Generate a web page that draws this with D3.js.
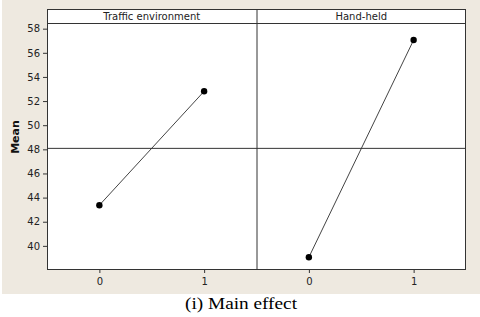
<!DOCTYPE html>
<html>
<head>
<meta charset="utf-8">
<script src="https://cdn.jsdelivr.net/npm/d3@7"></script>
<style>
  body { margin: 0; background: #fff; }
  svg text { font-family: Tahoma, "DejaVu Sans", sans-serif; }
</style>
</head>
<body>
<div id="chart"></div>
<script>
// main effects data
var panels = ["Traffic environment", "Hand-held"];
var levels = [0, 1];
var trafficMeans = [43.37, 52.81];
var handheldMeans = [39.06, 57.06];
var yTicks = [40, 42, 44, 46, 48, 50, 52, 54, 56, 58];
var grandMean = 48.08;

var width = 480, height = 317;
var frame = { left: 47, right: 466, top: 9, strip: 23, bottom: 270 };
var panelW = (frame.right - frame.left) / panels.length;

var svg = d3.select('#chart').append('svg')
    .attr('width', width)
    .attr('height', height);

// beige background
svg.append('rect')
    .attr('x', 2).attr('y', 0)
    .attr('width', 478).attr('height', 294)
    .attr('fill', '#eee9e0');

svg.append('rect')
    .attr('x', frame.left).attr('y', frame.top)
    .attr('width', frame.right - frame.left)
    .attr('height', frame.bottom - frame.top)
    .attr('fill', '#fff');

var y = d3.scaleLinear()
    .domain([38.0, 58.47])
    .range([frame.bottom, frame.strip]);

var yAxis = svg.append('g')
    .attr('transform', 'translate(' + frame.left + ',0)')
    .call(d3.axisLeft(y).tickValues(yTicks).tickSize(4).tickPadding(3));
yAxis.select('.domain').remove();
yAxis.selectAll('line').attr('stroke', '#333');
yAxis.selectAll('text')
    .attr('font-size', 10)
    .attr('fill', '#222')
    .style('font-family', 'Tahoma, "DejaVu Sans", sans-serif');

// y label
svg.append('text')
    .attr('transform', 'translate(19,' + 137 + ') rotate(-90)')
    .attr('text-anchor', 'middle')
    .attr('font-size', 11)
    .attr('font-weight', 'bold')
    .attr('fill', '#111')
    .text('Mean');

var series = [trafficMeans, handheldMeans];

panels.forEach(function (name, p) {
    var x0 = frame.left + p * panelW;
    var x = d3.scaleLinear()
        .domain([-0.5, 1.5])
        .range([x0, x0 + panelW]);

    var xAxis = svg.append('g')
        .attr('transform', 'translate(0,' + frame.bottom + ')')
        .call(d3.axisBottom(x).tickValues(levels).tickSize(3).tickPadding(5).tickFormat(d3.format('d')));
    xAxis.select('.domain').remove();
    xAxis.selectAll('line').attr('stroke', '#333');
    xAxis.selectAll('text')
        .attr('font-size', 10)
        .attr('fill', '#222')
        .style('font-family', 'Tahoma, "DejaVu Sans", sans-serif');

    var pts = levels.map(function (l, i) { return [l, series[p][i]]; });

    svg.append('path')
        .datum(pts)
        .attr('fill', 'none')
        .attr('stroke', '#444')
        .attr('stroke-width', 1)
        .attr('d', d3.line()
            .x(function (d) { return x(d[0]); })
            .y(function (d) { return y(d[1]); }));

    svg.selectAll('.pt' + p)
        .data(pts)
        .enter().append('circle')
        .attr('cx', function (d) { return x(d[0]); })
        .attr('cy', function (d) { return y(d[1]); })
        .attr('r', 3.2)
        .attr('fill', '#000');

    // strip label
    svg.append('text')
        .attr('x', x0 + panelW / 2)
        .attr('y', frame.top + 10.5)
        .attr('text-anchor', 'middle')
        .attr('font-size', 10)
        .attr('fill', '#222')
        .text(name);
});

// reference line at grand mean
svg.append('line')
    .attr('x1', frame.left).attr('x2', frame.right)
    .attr('y1', y(grandMean)).attr('y2', y(grandMean))
    .attr('stroke', '#333').attr('stroke-width', 1);

// frame, strip line, panel divider
svg.append('rect')
    .attr('x', frame.left + 0.5).attr('y', frame.top + 0.5)
    .attr('width', frame.right - frame.left - 1)
    .attr('height', frame.bottom - frame.top - 1)
    .attr('fill', 'none')
    .attr('stroke', '#333');
svg.append('line')
    .attr('x1', frame.left).attr('x2', frame.right)
    .attr('y1', frame.strip + 0.5).attr('y2', frame.strip + 0.5)
    .attr('stroke', '#333');
svg.append('line')
    .attr('x1', frame.left + panelW + 0.5).attr('x2', frame.left + panelW + 0.5)
    .attr('y1', frame.top).attr('y2', frame.bottom)
    .attr('stroke', '#333');

// caption
svg.append('text')
    .attr('x', 241)
    .attr('y', 309)
    .attr('text-anchor', 'middle')
    .attr('font-size', 16)
    .attr('textLength', 112)
    .attr('lengthAdjust', 'spacingAndGlyphs')
    .style('font-family', '"Liberation Serif", "Times New Roman", serif')
    .attr('fill', '#000')
    .text('(i) Main effect');
</script>
</body>
</html>
